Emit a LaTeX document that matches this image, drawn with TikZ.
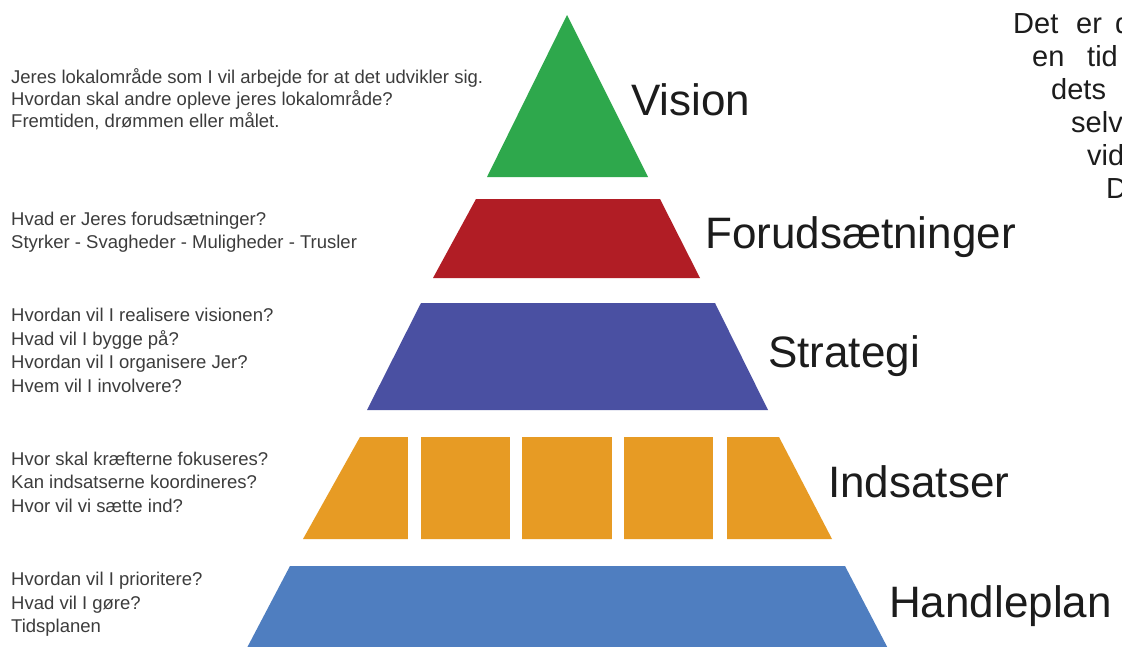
\documentclass[tikz,border=0pt]{standalone}
\usepackage{fontspec}
\setmainfont{Liberation Sans}
\definecolor{visiongreen}{RGB}{46,168,76}
\definecolor{forred}{RGB}{177,29,37}
\definecolor{stratblue}{RGB}{74,80,162}
\definecolor{indsorange}{RGB}{231,155,36}
\definecolor{handblue}{RGB}{79,126,192}
\definecolor{smallgray}{RGB}{60,60,60}
\definecolor{biggray}{RGB}{28,28,28}
\begin{document}
\begin{tikzpicture}[x=1pt,y=-1pt,
  small/.style={inner sep=0pt, anchor=base west, text=smallgray, font=\fontsize{18.5}{22}\selectfont},
  big/.style={inner sep=0pt, anchor=base west, text=biggray, font=\fontsize{44}{50}\selectfont},
  corner/.style={inner sep=0pt, anchor=base west, text=biggray, font=\fontsize{29}{33}\selectfont}]
\useasboundingbox (0,0) rectangle (1122,646);
\clip (0,0) rectangle (1122,646);
\fill[white] (0,0) rectangle (1122,646);
% pyramid levels
\fill[visiongreen] (567,15) -- (648,177) -- (487,177) -- cycle;
\fill[forred] (476,199) -- (660,199) -- (700,278) -- (433,278) -- cycle;
\fill[stratblue] (421,303) -- (715,303) -- (768,410) -- (367,410) -- cycle;
\fill[indsorange] (360,437) -- (779,437) -- (832,539) -- (303,539) -- cycle;
\foreach \a/\b in {408/421, 510/522, 612/624, 713/727}
  \fill[white] (\a,430) rectangle (\b,545);
\fill[handblue] (290,566) -- (845,566) -- (894,660) -- (240.6,660) -- cycle;
% big labels
\node[big] (vision) at (631,115) {Vision};
\node[big] (forud) at (705,248) {Forudsætninger};
\node[big] (strategi) at (768,367) {Strategi};
\node[big] (indsatser) at (828,497) {Indsatser};
\node[big] (handleplan) at (889,617) {Handleplan};
% left descriptions
\foreach \t [count=\i] in {Jeres lokalområde som I vil arbejde for at det udvikler sig., Hvordan skal andre opleve jeres lokalområde?, {Fremtiden, drømmen eller målet.}}
  \node[small] (v\i) at (11,{83+(\i-1)*22}) {\t};
\foreach \t [count=\i] in {Hvad er Jeres forudsætninger?, Styrker - Svagheder - Muligheder - Trusler}
  \node[small] (f\i) at (11,{225.5+(\i-1)*23}) {\t};
\foreach \t [count=\i] in {Hvordan vil I realisere visionen?, Hvad vil I bygge på?, Hvordan vil I organisere Jer?, Hvem vil I involvere?}
  \node[small] (s\i) at (11,{321.5+(\i-1)*23.7}) {\t};
\foreach \t [count=\i] in {Hvor skal kræfterne fokuseres?, Kan indsatserne koordineres?, Hvor vil vi sætte ind?}
  \node[small] (i\i) at (11,{465+(\i-1)*23.7}) {\t};
\foreach \t [count=\i] in {Hvordan vil I prioritere?, Hvad vil I gøre?, Tidsplanen}
  \node[small] (h\i) at (11,{585.5+(\i-1)*23.5}) {\t};
% top right cut-off text
\node[corner] (c1) at (1013,33) {Det};
\node[corner] (c2) at (1076,33) {er};
\node[corner] (c3) at (1115,33) {d};
\node[corner] (c4) at (1032,66) {en};
\node[corner] (c5) at (1087,66) {tid};
\node[corner] (c6) at (1051,99) {dets};
\node[corner] (c7) at (1071,132) {selv};
\node[corner] (c8) at (1087,165) {vid};
\node[corner] (c9) at (1106,198) {D};
\end{tikzpicture}
\end{document}
